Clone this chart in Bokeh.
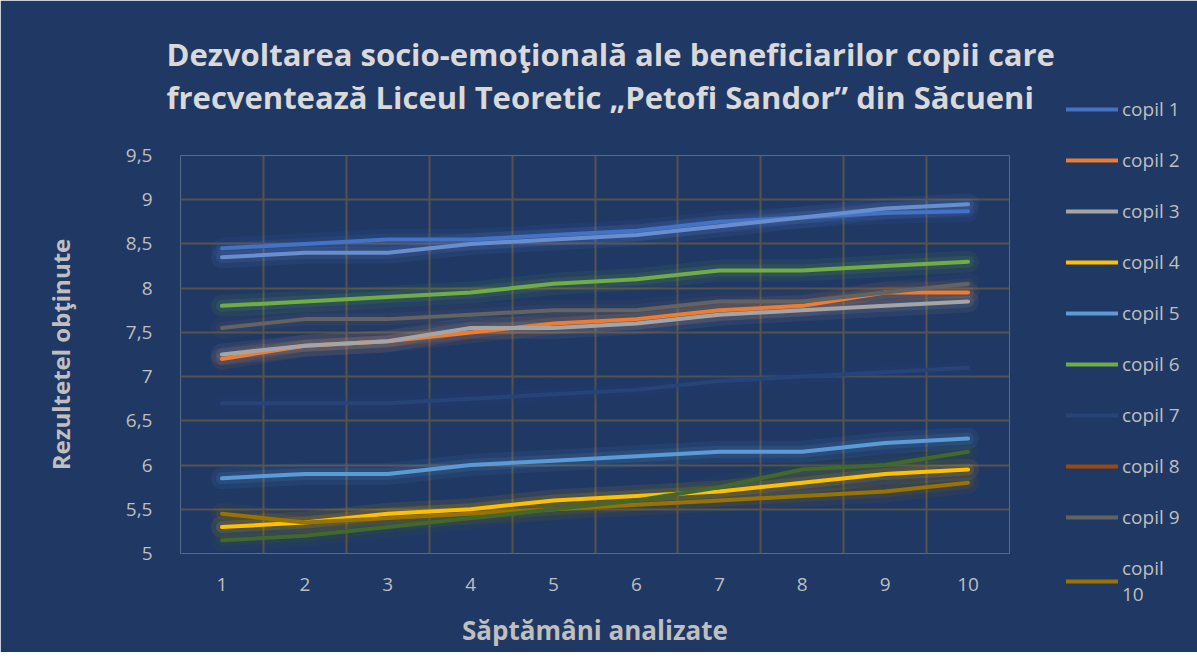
from bokeh.plotting import figure
from bokeh.models import (Range1d, FixedTicker, Legend, LegendItem, Title, Grid)
from bokeh.embed import file_html
from bokeh.resources import INLINE

weeks = [1, 2, 3, 4, 5, 6, 7, 8, 9, 10]
copil_1 = [8.45, 8.5, 8.55, 8.55, 8.6, 8.65, 8.75, 8.8, 8.85, 8.87]
copil_2 = [7.2, 7.35, 7.4, 7.5, 7.6, 7.65, 7.75, 7.8, 7.95, 7.95]
copil_3 = [7.25, 7.35, 7.4, 7.55, 7.55, 7.6, 7.7, 7.75, 7.8, 7.85]
copil_4 = [5.3, 5.35, 5.45, 5.5, 5.6, 5.65, 5.7, 5.8, 5.9, 5.95]
copil_5 = [5.85, 5.9, 5.9, 6.0, 6.05, 6.1, 6.15, 6.15, 6.25, 6.3]
copil_6 = [7.8, 7.85, 7.9, 7.95, 8.05, 8.1, 8.2, 8.2, 8.25, 8.3]
copil_7 = [6.7, 6.7, 6.7, 6.75, 6.8, 6.85, 6.95, 7.0, 7.05, 7.1]
copil_8 = [None] * 10  # line not visible in the chart, only in the legend
copil_9 = [7.55, 7.65, 7.65, 7.7, 7.75, 7.75, 7.85, 7.85, 7.95, 8.05]
copil_10 = [5.45, 5.35, 5.4, 5.45, 5.5, 5.55, 5.6, 5.65, 5.7, 5.8]
extra_11 = [8.35, 8.4, 8.4, 8.5, 8.55, 8.6, 8.7, 8.8, 8.9, 8.95]
extra_12 = [5.15, 5.2, 5.3, 5.4, 5.5, 5.6, 5.75, 5.95, 6.0, 6.15]

series_names = ["copil 1", "copil 2", "copil 3", "copil 4", "copil 5", "copil 6",
                "copil 7", "copil 8", "copil 9", "copil\n10", None, None]
series_values = [copil_1, copil_2, copil_3, copil_4, copil_5, copil_6,
                 copil_7, copil_8, copil_9, copil_10, extra_11, extra_12]
series_colors = ["#4472C4", "#ED7D31", "#A5A5A5", "#FFC000", "#5B9BD5", "#70AD47",
                 "#264478", "#9E480E", "#636363", "#997300", "#698ED0", "#43682B"]

y_ticks = [5, 5.5, 6, 6.5, 7, 7.5, 8, 8.5, 9, 9.5]
y_tick_labels = {5: "5", 5.5: "5,5", 6: "6", 6.5: "6,5", 7: "7", 7.5: "7,5",
                 8: "8", 8.5: "8,5", 9: "9", 9.5: "9,5"}

title_text = ("Dezvoltarea socio-emoţională ale beneficiarilor copii care\n"
              "frecventează Liceul Teoretic „Petofi Sandor” din Săcueni")
x_title = "Săptămâni analizate"
y_title = "Rezultetel obţinute"

BG = "#1F3864"
TXT = "#BFBFBF"
FONT = "Open Sans"

p = figure(frame_width=829, frame_height=398, output_backend="svg", toolbar_location=None,
           x_range=Range1d(0.5, 10.5), y_range=Range1d(5, 9.5),
           min_border_left=180, min_border_right=172, min_border_top=155,
           min_border_bottom=99)
p.background_fill_color = BG
p.border_fill_color = BG
p.outline_line_color = None

# axes
p.xaxis.ticker = FixedTicker(ticks=weeks)
p.yaxis.ticker = FixedTicker(ticks=y_ticks)
p.yaxis.major_label_overrides = y_tick_labels
for ax in (p.xaxis[0], p.yaxis[0]):
    ax.axis_line_color = None
    ax.major_tick_line_color = None
    ax.minor_tick_line_color = None
    ax.major_label_text_color = TXT
    ax.major_label_text_font = FONT
    ax.major_label_text_font_size = "19px"
    ax.axis_label_text_color = TXT
    ax.axis_label_text_font = FONT
    ax.axis_label_text_font_style = "bold"
p.xaxis.axis_label = x_title
p.yaxis.axis_label = y_title
p.xaxis.axis_label_text_font_size = "26px"
p.yaxis.axis_label_text_font_size = "24px"
p.xaxis.major_label_standoff = 18
p.yaxis.major_label_standoff = 22
p.xaxis.axis_label_standoff = 18
p.yaxis.axis_label_standoff = 46

# grids
GRID = "#57534A"
p.ygrid.grid_line_color = GRID
p.ygrid.grid_line_width = 2
p.xgrid.grid_line_color = None
bounds = [w - 0.5 for w in weeks] + [weeks[-1] + 0.5]
vgrid = Grid(dimension=0, ticker=FixedTicker(ticks=bounds),
             grid_line_color=GRID, grid_line_width=2)
p.add_layout(vgrid)

# lines with glow
items = []
for name, vals, col in zip(series_names, series_values, series_colors):
    p.line(weeks, vals, line_color=col, line_width=22, line_alpha=0.09, line_cap="round", line_join="round")
    p.line(weeks, vals, line_color=col, line_width=12, line_alpha=0.13, line_cap="round", line_join="round")
for name, vals, col in zip(series_names, series_values, series_colors):
    r = p.line(weeks, vals, line_color=col, line_width=4, line_cap="round", line_join="round")
    if name is not None:
        items.append(LegendItem(label=name, renderers=[r]))

legend = Legend(items=items, location=(57, -54), orientation="vertical",
                glyph_width=52, glyph_height=20, label_height=20,
                label_standoff=4, spacing=25, padding=0, margin=0,
                label_text_color=TXT, label_text_font=FONT,
                label_text_font_size="19px",
                background_fill_alpha=0, border_line_color=None)
p.add_layout(legend, "right")

# two-line title, with a thin spacer panel between it and the plot area
p.add_layout(Title(text=" ", text_font_size="1px", standoff=4,
                   text_color=BG), "above")
p.add_layout(Title(text=title_text, align="left", offset=-14, standoff=60,
                   text_color="#D9D9D9", text_font=FONT, text_line_height=1.04,
                   text_font_size="31px", text_font_style="bold"), "above")

open("out.html", "w").write(file_html(p, INLINE))
